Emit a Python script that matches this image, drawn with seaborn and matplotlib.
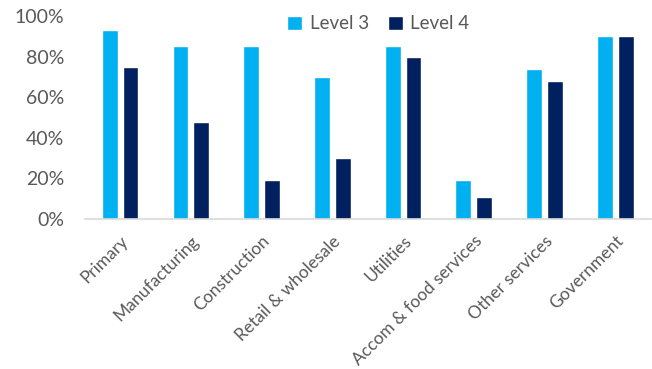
import matplotlib
matplotlib.use("Agg")
import matplotlib.pyplot as plt
import seaborn as sns
import pandas as pd
from matplotlib.ticker import FuncFormatter
from matplotlib.patches import Patch

categories = ["Primary", "Manufacturing", "Construction", "Retail & wholesale",
              "Utilities", "Accom & food services", "Other services", "Government"]
level3 = [93, 85, 85, 70, 85, 19, 74, 90]
level4 = [75, 48, 19, 30, 80, 11, 68, 90]
series_names = ["Level 3", "Level 4"]
colors = ["#00B0F0", "#002060"]

df = pd.DataFrame({
    "Sector": categories * 2,
    "Value": level3 + level4,
    "Series": [series_names[0]] * len(categories) + [series_names[1]] * len(categories),
})

sns.set_style("white")
plt.rcParams["font.family"] = ["Lato", "DejaVu Sans"]
text_color = "#595959"

fig = plt.figure(figsize=(6.52, 3.69), dpi=100)
ax = fig.add_axes([0.130, 0.4065, 0.868, 0.5501])

sns.barplot(data=df, x="Sector", y="Value", hue="Series", palette=colors,
            width=0.59, gap=0.24, ax=ax, legend=False, saturation=1)

ax.set_ylim(0, 100)
ax.set_xlim(-0.5, 7.5)
ax.set_yticks([0, 20, 40, 60, 80, 100])
ax.yaxis.set_major_formatter(FuncFormatter(lambda v, p: f"{int(v)}%"))
ax.set_xlabel("")
ax.set_ylabel("")
for s in ["top", "right", "left"]:
    ax.spines[s].set_visible(False)
ax.spines["bottom"].set_color("#D9D9D9")
ax.spines["bottom"].set_linewidth(1.2)
ax.tick_params(axis="both", length=0, colors=text_color, labelsize=14)
ax.tick_params(axis="y", pad=15)
ax.tick_params(axis="x", pad=10)
for lbl in ax.get_xticklabels():
    lbl.set_rotation(45)
    lbl.set_ha("right")
    lbl.set_rotation_mode("anchor")
    lbl.set_fontsize(12.5)

handles = [Patch(facecolor=c, label=n) for c, n in zip(colors, series_names)]
fig.legend(handles=handles, loc="center", bbox_to_anchor=(0.58, 0.935), ncol=2,
           frameon=False, fontsize=13.5, labelcolor=text_color,
           handlelength=0.8, handleheight=0.8, handletextpad=0.4, columnspacing=1.0)

fig.savefig("out.png", dpi=100)
